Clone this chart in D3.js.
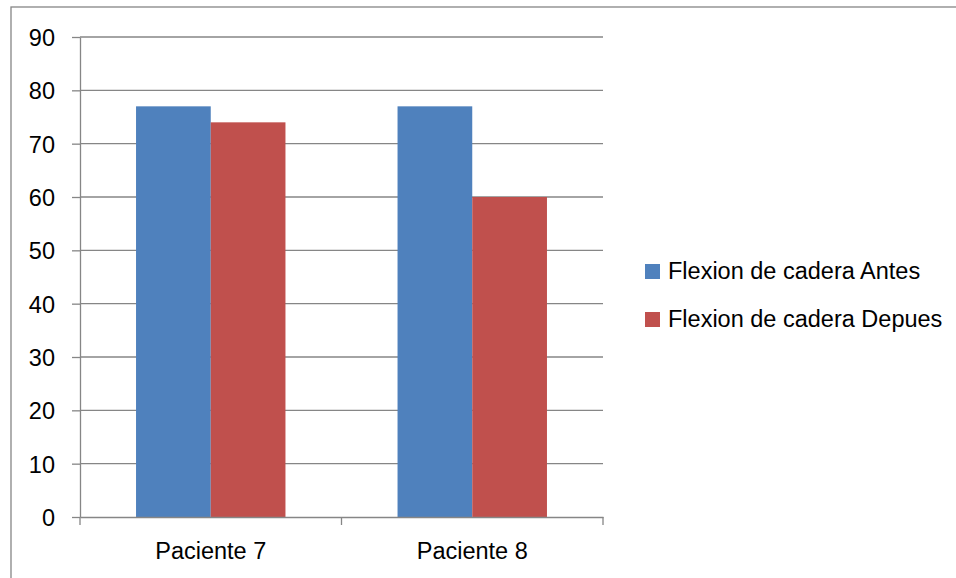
<!DOCTYPE html>
<html>
<head>
<meta charset="utf-8">
<script src="https://cdn.jsdelivr.net/npm/d3@7"></script>
<style>
  body { margin: 0; background: #fff; }
  svg text { font-family: "Liberation Sans", Arial, sans-serif; fill: #000; }
  .axis path, .axis line { stroke: #868686; stroke-width: 1.3; }
  .grid line { stroke: #868686; stroke-width: 1.3; }
</style>
</head>
<body>
<svg id="chart"></svg>
<script>
var categories = ["Paciente 7", "Paciente 8"];
var seriesNames = ["Flexion de cadera Antes", "Flexion de cadera Depues"];
var antes = [77, 77];
var depues = [74, 60];
var yTicks = [0, 10, 20, 30, 40, 50, 60, 70, 80, 90];
var colors = ["#4F81BD", "#C0504D"];

var width = 956, height = 578;
var plot = { left: 80, right: 603, top: 37, bottom: 517 };

var svg = d3.select("#chart")
  .attr("width", width)
  .attr("height", height);

// chart area border (right and bottom edges fall outside the picture)
svg.append("rect")
  .attr("x", 11).attr("y", 7)
  .attr("width", width).attr("height", height)
  .attr("fill", "#fff")
  .attr("stroke", "#868686")
  .attr("stroke-width", 1.3);

var y = d3.scaleLinear().domain([0, 90]).range([plot.bottom, plot.top]);

var x0 = d3.scaleBand().domain(categories).range([plot.left, plot.right]);
var x1 = d3.scaleBand().domain(seriesNames)
  .range([0, x0.bandwidth()])
  .paddingInner(0).paddingOuter(0.75);

var data = categories.map(function(c, i){
  return { cat: c, values: [
    { name: seriesNames[0], value: antes[i] },
    { name: seriesNames[1], value: depues[i] }
  ]};
});

//Gridlines
svg.append("g")
  .attr("class", "grid")
  .selectAll("line")
  .data(yTicks.filter(function(t){ return t > 0; }))
  .enter().append("line")
  .attr("x1", plot.left).attr("x2", plot.right)
  .attr("y1", function(d){ return y(d); })
  .attr("y2", function(d){ return y(d); });

//Bars
var groups = svg.append("g")
  .selectAll("g")
  .data(data)
  .enter().append("g")
  .attr("transform", function(d){ return "translate(" + x0(d.cat) + ",0)"; });

groups.selectAll("rect")
  .data(function(d){ return d.values; })
  .enter().append("rect")
  .attr("x", function(d){ return x1(d.name); })
  .attr("width", x1.bandwidth())
  .attr("y", function(d){ return y(d.value); })
  .attr("height", function(d){ return y(0) - y(d.value); })
  .attr("fill", function(d, i){ return colors[i]; });

//Y axis
var yAxis = svg.append("g")
  .attr("class", "axis")
  .attr("transform", "translate(" + plot.left + ",0)")
  .call(d3.axisLeft(y).tickValues(yTicks).tickSize(8).tickSizeOuter(0).tickPadding(17));
yAxis.selectAll("text")
  .attr("dy", "0.36em")
  .style("font-size", "23.5px");

//X axis
var xAxis = svg.append("g")
  .attr("class", "axis")
  .attr("transform", "translate(0," + plot.bottom + ")")
  .call(d3.axisBottom(x0).tickSize(0).tickSizeOuter(0).tickPadding(25.5));
xAxis.selectAll("text")
  .style("font-size", "23.5px");

var edges = [plot.left].concat(categories.map(function(c){ return x0(c) + x0.bandwidth(); }));
xAxis.selectAll(".edge")
  .data(edges)
  .enter().append("line")
  .attr("class", "edge")
  .attr("x1", function(d){ return d; })
  .attr("x2", function(d){ return d; })
  .attr("y1", 0).attr("y2", 8);

//Legend
var legend = svg.append("g")
  .attr("transform", "translate(645,264)");

var items = legend.selectAll("g")
  .data(seriesNames)
  .enter().append("g")
  .attr("transform", function(d, i){ return "translate(0," + (i * 48) + ")"; });

items.append("rect")
  .attr("width", 15).attr("height", 15)
  .attr("fill", function(d, i){ return colors[i]; });

items.append("text")
  .attr("x", 23).attr("y", 15)
  .style("font-size", "23.5px")
  .text(function(d){ return d; });
</script>
</body>
</html>
